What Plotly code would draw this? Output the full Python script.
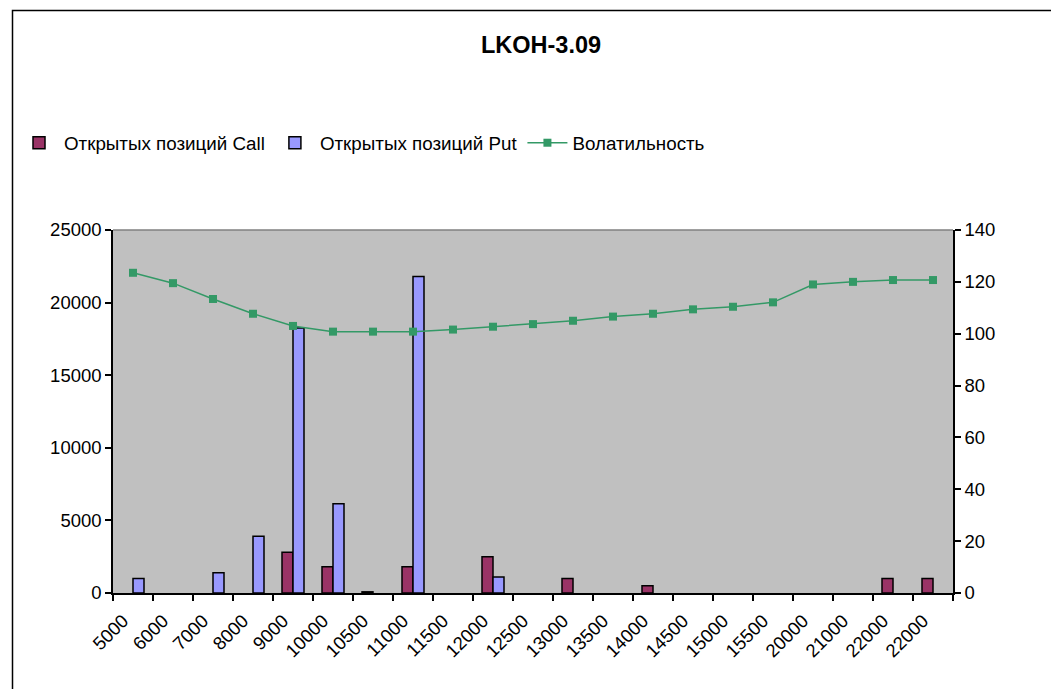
import plotly.graph_objects as go

strikes = ["5000", "6000", "7000", "8000", "9000", "10000", "10500", "11000", "11500",
           "12000", "12500", "13000", "13500", "14000", "14500", "15000", "15500",
           "20000", "21000", "22000", "22000"]
call_oi = [None, None, None, None, 2800, 1800, 80, 1800, None, 2500, None, 1000, None,
           500, None, None, None, None, None, 1000, 1000]
put_oi = [1000, None, 1400, 3900, 18250, 6150, None, 21800, None, 1100, None, None, None,
          None, None, None, None, None, None, None, None]
volatility = [123.5, 119.5, 113.4, 107.7, 103.0, 100.8, 100.8, 100.8, 101.6, 102.7, 103.7,
              105.0, 106.6, 107.7, 109.4, 110.4, 112.1, 119.0, 120.0, 120.7, 120.7]
left_ticks = [0, 5000, 10000, 15000, 20000, 25000]
right_ticks = [0, 20, 40, 60, 80, 100, 120, 140]

W, H = 1051, 689
L, R, T, B = 113, 953, 230, 593
pw, ph = R - L, B - T

FONT = "Liberation Sans, Arial, sans-serif"
FS = 18.5
idx = list(range(len(strikes)))

fig = go.Figure()
fig.add_trace(go.Bar(x=idx, y=call_oi, name="Открытых позиций Call",
                     marker=dict(color="#993366", line=dict(color="black", width=1.5))))
fig.add_trace(go.Bar(x=idx, y=put_oi, name="Открытых позиций Put",
                     marker=dict(color="#9999FF", line=dict(color="black", width=1.5))))
fig.add_trace(go.Scatter(x=idx, y=volatility, name="Волатильность", yaxis="y2",
                         mode="lines+markers",
                         line=dict(color="#339966", width=1.5),
                         marker=dict(symbol="square", size=8, color="#339966")))


def px_x(p):
    return (p - L) / pw


def px_y(p):
    return (B - p) / ph


shapes = [
    dict(type="path", xref="paper", yref="paper",
         path=f"M {px_x(12.5)} {px_y(689)} L {px_x(12.5)} {px_y(10.5)} L {px_x(1051)} {px_y(10.5)}",
         line=dict(color="black", width=1.5)),
    dict(type="line", xref="paper", yref="paper", x0=0, x1=1, y0=1, y1=1,
         line=dict(color="#808080", width=1.5)),
]

axis_common = dict(ticks="outside", ticklen=6, tickcolor="black", tickwidth=1.5,
                   showgrid=False, zeroline=False, showline=True, linecolor="black",
                   linewidth=1.5, tickfont=dict(size=FS, family=FONT), automargin=False)

fig.update_layout(
    width=W, height=H,
    margin=dict(l=L, r=W - R, t=T, b=H - B, pad=0),
    paper_bgcolor="white",
    plot_bgcolor="#C0C0C0",
    font=dict(family=FONT, size=FS, color="black"),
    title=dict(text="<b>LKOH-3.09</b>", x=541 / W, xanchor="center", xref="container",
               y=1 - 45 / H, yanchor="middle", yref="container",
               font=dict(size=23.5, family=FONT, color="black")),
    barmode="group",
    bargap=0.45,
    bargroupgap=0,
    showlegend=True,
    legend=dict(orientation="h", xref="container", yref="container",
                x=14 / W, xanchor="left", y=1 - 143 / H, yanchor="middle",
                font=dict(size=18.8, family=FONT), bgcolor="rgba(0,0,0,0)",
                itemwidth=40, tracegroupgap=0),
    xaxis=dict(range=[-0.5, len(strikes) - 0.5], tickmode="array", tickvals=idx,
               ticktext=strikes, tickangle=-45, ticks="", showgrid=False, zeroline=False,
               showline=True, linecolor="black", linewidth=1.5, automargin=False,
               ticklabelshift=-10, ticklabelstandoff=8,
               minor=dict(tickmode="array", tickvals=[i - 0.5 for i in range(len(strikes) + 1)],
                          ticks="outside", ticklen=6, tickcolor="black", tickwidth=1.5,
                          showgrid=False),
               tickfont=dict(size=FS, family=FONT)),
    yaxis=dict(range=[0, 25000], tickmode="array", tickvals=left_ticks,
               ticktext=[str(v) for v in left_ticks], **axis_common),
    yaxis2=dict(range=[0, 140], tickmode="array", tickvals=right_ticks,
                ticktext=[str(v) for v in right_ticks],
                overlaying="y", side="right", **axis_common),
    shapes=shapes,
)

fig.write_html("out.html", config={"displayModeBar": False},
               post_script="document.body.style.margin='0';")
